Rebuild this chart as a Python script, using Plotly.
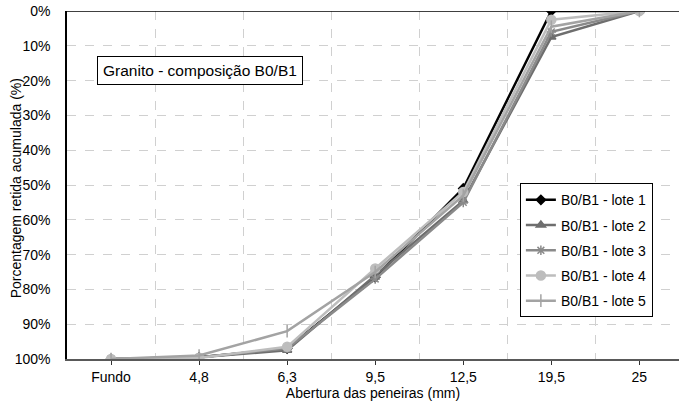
import plotly.graph_objects as go

categories = ["Fundo", "4,8", "6,3", "9,5", "12,5", "19,5", "25"]
lote1 = [1.00, 0.995, 0.970, 0.765, 0.510, 0.000, 0.0]
lote2 = [1.00, 0.995, 0.975, 0.760, 0.545, 0.075, 0.0]
lote3 = [1.00, 0.995, 0.970, 0.770, 0.550, 0.060, 0.0]
lote4 = [1.00, 0.997, 0.965, 0.740, 0.520, 0.025, 0.0]
lote5 = [1.00, 0.990, 0.920, 0.750, 0.530, 0.045, 0.0]
names = ["B0/B1 - lote 1", "B0/B1 - lote 2", "B0/B1 - lote 3", "B0/B1 - lote 4", "B0/B1 - lote 5"]
series = [lote1, lote2, lote3, lote4, lote5]
colors = ["#000000", "#6e6e6e", "#8a8a8a", "#bdbdbd", "#a3a3a3"]
symbols = ["diamond", "triangle-up", "asterisk-open", "circle", "line-ns-open"]
msizes = [7, 8, 8, 9, 9]

xpos = list(range(len(categories)))
fig = go.Figure()
for i, (nm, ys) in enumerate(zip(names, series)):
    fig.add_trace(go.Scatter(
        x=xpos, y=ys, name=nm, mode="lines+markers", legendgroup=nm,
        line=dict(color=colors[i], width=2.5),
        marker=dict(symbol=symbols[i], size=msizes[i], color=colors[i],
                    line=dict(color=colors[i], width=1.5)),
    ))
# invisible trace for boundary gridlines axis
fig.add_trace(go.Scatter(x=[0], y=[0], xaxis="x2", showlegend=False,
                         mode="markers", marker=dict(opacity=0), hoverinfo="skip"))

xr = [-0.5, 6.45]
fig.update_layout(
    width=679, height=404,
    margin=dict(l=67, r=0, t=11, b=45),
    paper_bgcolor="white", plot_bgcolor="white",
    font=dict(family="Liberation Sans, Arial, sans-serif", size=14, color="#000000"),
    xaxis=dict(range=xr, tickvals=xpos, ticktext=categories, showgrid=False,
               showline=True, linecolor="#595959", linewidth=2,
               ticks="outside", ticklen=4, tickcolor="#333333", tickwidth=1,
               zeroline=False, automargin=False,
               title=dict(text="Abertura das peneiras (mm)", standoff=0,
                          font=dict(size=14))),
    xaxis2=dict(range=xr, overlaying="x", tickvals=[0.5, 1.5, 2.5, 3.5, 4.5, 5.5],
                showticklabels=False, showgrid=True, gridcolor="#d0d0d0",
                griddash="dash", gridwidth=1, zeroline=False, showline=False,
                side="bottom", automargin=False),
    yaxis=dict(range=[1, 0], dtick=0.1, tickformat=".0%", showgrid=True,
               gridcolor="#d0d0d0", griddash="dash", gridwidth=1,
               showline=True, linecolor="#000000", linewidth=1.5, mirror=False,
               zeroline=False, ticks="", ticklabelstandoff=12, automargin=False),
    legend=dict(x=0.74, y=0.505, xanchor="left", yanchor="top",
                bordercolor="#000000", borderwidth=1, bgcolor="white",
                font=dict(size=14), tracegroupgap=4, itemwidth=30),
    showlegend=True,
)
fig.add_shape(type="line", xref="paper", yref="y", x0=0, x1=1, y0=0, y1=0,
              line=dict(color="#000000", width=1.5))
fig.add_annotation(xref="paper", yref="paper", x=-0.082, y=0.49,
                   xanchor="center", yanchor="middle", textangle=-90,
                   text="Porcentagem retida acumulada (%)", showarrow=False,
                   font=dict(size=14))
fig.add_annotation(xref="paper", yref="paper", x=0.217, y=0.828,
                   xanchor="center", yanchor="middle",
                   text="Granito - composição B0/B1", showarrow=False,
                   font=dict(size=15.5), bordercolor="#000000", borderwidth=1,
                   bgcolor="white", borderpad=5)
fig.write_html("out.html", config={"displayModeBar": False},
               post_script="document.body.style.margin='0';document.body.style.overflow='hidden';")
